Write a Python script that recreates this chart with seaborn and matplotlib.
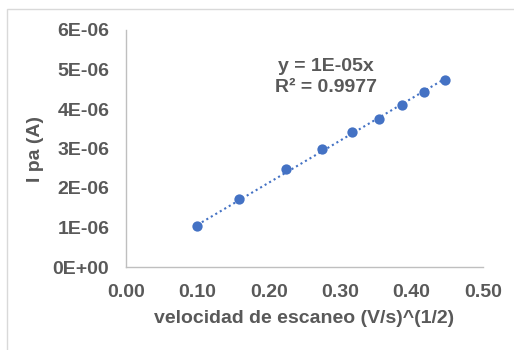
import numpy as np
import pandas as pd
import matplotlib
matplotlib.use("Agg")
import matplotlib.pyplot as plt
import seaborn as sns
from matplotlib.patches import Rectangle

# Data
scan_sqrt = [0.10, 0.158, 0.224, 0.274, 0.316, 0.354, 0.387, 0.418, 0.447]
i_pa = [1.05e-6, 1.72e-6, 2.47e-6, 3.00e-6, 3.41e-6, 3.74e-6, 4.11e-6, 4.42e-6, 4.73e-6]
x_ticks = [0.0, 0.1, 0.2, 0.3, 0.4, 0.5]
x_ticklabels = ["0.00", "0.10", "0.20", "0.30", "0.40", "0.50"]
y_ticks = [0, 1e-6, 2e-6, 3e-6, 4e-6, 5e-6, 6e-6]
y_ticklabels = ["0E+00", "1E-06", "2E-06", "3E-06", "4E-06", "5E-06", "6E-06"]
eq_text = "y = 1E-05x\nR² = 0.9977"

df = pd.DataFrame({"x": scan_sqrt, "y": i_pa})

sns.set_style("white")
plt.rcParams["font.family"] = ["Liberation Sans", "DejaVu Sans"]
GRAY = "#595959"
BLUE = "#4472C4"
FS = 14

fig = plt.figure(figsize=(5.14, 3.5), dpi=100)
fig.patches.append(Rectangle((7 / 514, -0.1), 1.2, 1 - 9 / 350 + 0.1,
                             transform=fig.transFigure, fill=False,
                             edgecolor="#D9D9D9", linewidth=1.0))
ax = fig.add_axes([126 / 514, 1 - 267 / 350, (483 - 126) / 514, (267 - 30) / 350])

# trendline through origin (least squares)
xs = np.array(scan_sqrt)
ys = np.array(i_pa)
slope = (xs * ys).sum() / (xs * xs).sum()
xl = np.array([xs.min(), xs.max()])
ax.plot(xl, slope * xl, linestyle=(0, (1, 1.5)), color=BLUE, linewidth=1.5, zorder=2)

sns.scatterplot(data=df, x="x", y="y", ax=ax, color=BLUE, s=55,
                edgecolor=BLUE, linewidth=0, zorder=3)

ax.set_xlim(0, 0.5)
ax.set_ylim(0, 6e-6)
ax.set_xticks(x_ticks)
ax.set_xticklabels(x_ticklabels)
ax.set_yticks(y_ticks)
ax.set_yticklabels(y_ticklabels)
ax.tick_params(axis="both", length=0, labelsize=FS, labelcolor=GRAY)
ax.tick_params(axis="x", pad=12)
ax.tick_params(axis="y", pad=12)
for lab in ax.get_xticklabels() + ax.get_yticklabels():
    lab.set_fontweight("bold")

for s in ["top", "right"]:
    ax.spines[s].set_visible(False)
for s in ["left", "bottom"]:
    ax.spines[s].set_color("#BFBFBF")
    ax.spines[s].set_linewidth(1.0)

ax.set_xlabel("velocidad de escaneo (V/s)^(1/2)", fontsize=FS, fontweight="bold",
              color=GRAY, labelpad=7)
ax.set_ylabel("I pa (A)", fontsize=FS, fontweight="bold", color=GRAY, labelpad=6)

ax.text(0.28, 4.81e-6, eq_text, fontsize=FS, fontweight="bold", color=GRAY,
        ha="center", va="center", linespacing=1.25)

fig.savefig("out.png", dpi=100)
